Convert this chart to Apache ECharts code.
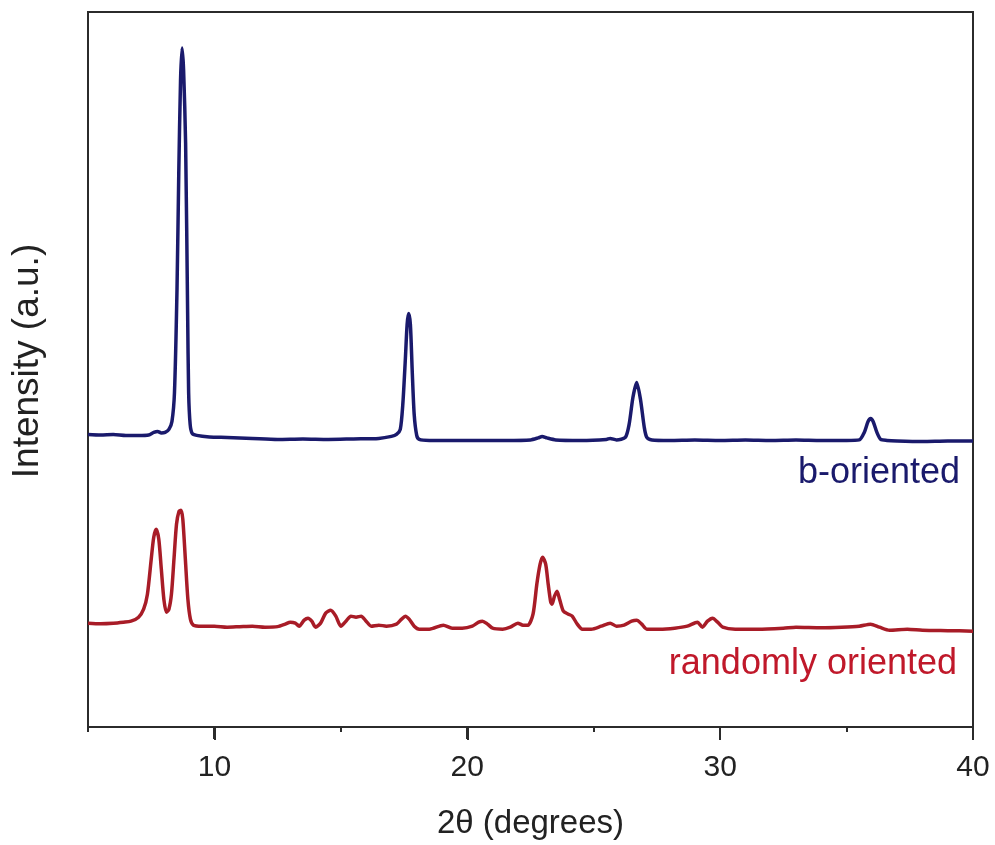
<!DOCTYPE html>
<html>
<head>
<meta charset="utf-8">
<script src="https://cdn.jsdelivr.net/npm/echarts@6/dist/echarts.min.js"></script>
<style>
html,body{margin:0;padding:0;background:#fff;}
#chart{width:995px;height:845px;}
</style>
</head>
<body>
<div id="chart"></div>
<script>
// 2θ (degrees) and intensity (a.u.)
var bTheta = [5.0,5.5,6.0,6.5,7.0,7.4,7.6,7.75,7.9,8.05,8.2,8.32,8.42,8.52,8.59,8.66,8.72,8.78,8.86,8.94,8.98,9.04,9.12,9.3,9.8,10.5,11.5,12.5,13.5,14.5,15.5,16.5,17.0,17.2,17.35,17.45,17.55,17.62,17.68,17.75,17.82,17.9,18.0,18.1,18.5,19.5,20.5,21.5,22.5,22.8,22.96,23.15,23.5,24.5,25.5,25.65,25.9,26.25,26.4,26.55,26.7,26.85,27.0,27.1,27.3,28,29,30,31,32,33,34,35,35.5,35.7,35.85,35.95,36.05,36.2,36.35,36.6,37,38,39,40];
var bIntensity = [293,292.5,293,292,292,292.5,295,296,294.5,295,298,306,335,438,555,648,680,658,585,415,335,303,294,292,290.5,290,289,288,288.5,288,288.5,289,291,293,298,323,368,403,414,403,358,313,292,288,287,287,287,287,287.5,289.5,291,289.5,287.5,287,288,289,287.5,290,303,330,345,328,300,290,287.5,287,287.5,287,287.5,287,287.5,287,287,287.5,295,306,309,306,295,288,287,286.5,286,286.5,286.5];

var rTheta = [5.0,5.5,6.0,6.4,6.7,7.0,7.2,7.35,7.5,7.6,7.7,7.8,7.9,8.0,8.1,8.2,8.3,8.4,8.5,8.6,8.68,8.75,8.85,8.95,9.05,9.17,9.5,10,10.5,11,11.5,12,12.5,12.8,13.0,13.2,13.35,13.55,13.7,13.85,14.0,14.2,14.4,14.6,14.8,15.0,15.2,15.4,15.6,15.8,16.0,16.2,16.5,16.8,17.2,17.4,17.55,17.7,17.9,18.1,18.5,19.05,19.4,19.8,20.2,20.45,20.6,20.8,21.0,21.4,21.7,22.0,22.2,22.4,22.6,22.75,22.88,22.98,23.1,23.2,23.3,23.35,23.45,23.55,23.65,23.8,24.0,24.15,24.35,24.55,24.9,25.3,25.65,25.9,26.2,26.5,26.7,26.9,27.1,27.6,28.2,28.7,29.1,29.3,29.5,29.7,29.9,30.1,30.6,31.5,32.5,33.0,34.0,34.8,35.5,35.95,36.3,36.7,37.4,38,39,40];
var rIntensity = [104,103.5,104,105,106,110,118,133,168,190,198,188,158,128,115,118,133,168,203,216,217,208,168,128,108,102,101,101,100,100.5,101,100,100.5,103,105,104,101,107,109,106,100,104,114,117,111,101,106,111,110,111,106,101,102,101,103,108,111,108,101,98,98,102,99,99,101,105,106,103,99,98,100,104,102,102,113,143,163,170,163,143,125,123,131,136,128,116,113,111,103,98,98,101,104,101,102,106,107,103,98,98,99,101,105,100,106,109,105,100,98,98,99,100,99.5,100,101,103,100,97,98,97,96.5,96];

var xMin = 5, xMax = 40;
var majorTicks = [10,20,30,40];
var minorTicks = [5,15,25,35];
var seriesNames = ['b-oriented','randomly oriented'];
var xTitle = '2θ (degrees)';
var yTitle = 'Intensity (a.u.)';

function pairs(xs, ys){ return xs.map(function(x,i){ return [x, ys[i]]; }); }

var FONT = 'Liberation Sans, Arial, Helvetica, sans-serif';
var AXIS = '#2b2b2b';
var BLUE = '#1a1a6c';
var RED = '#a81c27';

var W = 995, H = 845;
var L = 88, R = 22, T = 12, B = 117;
var MAJOR_LEN = 12;
var pxPerDeg = (W - L - R) / (xMax - xMin);
// companion grid starting at the first labelled value, so its labels land on 10, 20, 30, 40
var L2 = L + (majorTicks[0] - xMin) * pxPerDeg;

var chart = echarts.init(document.getElementById('chart'), null, {renderer:'canvas'});
chart.setOption({
  animation:false,
  backgroundColor:'#ffffff',
  grid:[
    {left:L, right:R, top:T, bottom:B, show:true, borderColor:AXIS, borderWidth:2, backgroundColor:'transparent'},
    {left:L2, right:R, top:T, bottom:B, show:false}
  ],
  xAxis:[{
    gridIndex:0, type:'value', min:xMin, max:xMax, interval:5,
    name:xTitle, nameLocation:'middle', nameGap:80,
    nameTextStyle:{fontFamily:FONT, fontSize:33, color:'#222'},
    axisLine:{show:true, onZero:false, lineStyle:{color:AXIS, width:2}},
    axisTick:{show:true, customValues:minorTicks, length:5, lineStyle:{color:AXIS, width:2}},
    axisLabel:{show:false},
    splitLine:{show:false}
  },{
    gridIndex:1, type:'value', min:majorTicks[0], max:xMax, interval:10, position:'bottom',
    axisLine:{show:false},
    axisTick:{show:true, length:MAJOR_LEN, lineStyle:{color:AXIS, width:2}},
    axisLabel:{show:true, margin:25, fontFamily:FONT, fontSize:30, color:'#222', showMinLabel:true, showMaxLabel:true},
    splitLine:{show:false}
  }],
  yAxis:[{
    gridIndex:0, type:'value', min:0, max:716,
    axisLine:{show:true, onZero:false, lineStyle:{color:AXIS, width:2}},
    axisTick:{show:false}, axisLabel:{show:false}, splitLine:{show:false}
  },{
    gridIndex:1, type:'value', min:0, max:716, show:false
  }],
  series:[{
    name:seriesNames[0], type:'line', xAxisIndex:0, yAxisIndex:0, data:pairs(bTheta,bIntensity), showSymbol:false,
    smooth:0.25, lineStyle:{color:BLUE, width:3.5}, z:3
  },{
    name:seriesNames[1], type:'line', xAxisIndex:0, yAxisIndex:0, data:pairs(rTheta,rIntensity), showSymbol:false,
    smooth:0.25, lineStyle:{color:RED, width:3.5}, z:3
  }],
  graphic:[{
    id:'ytitle', type:'text', x:28, y:361, rotation:Math.PI/2,
    style:{text:yTitle, fontFamily:FONT, fontSize:37, fill:'#222', textAlign:'center', textVerticalAlign:'middle'}
  },{
    id:'lab0', type:'text', right:35, top:455,
    style:{text:seriesNames[0], fontFamily:FONT, fontSize:36, fill:BLUE}
  },{
    id:'lab1', type:'text', right:38, top:646,
    style:{text:seriesNames[1], fontFamily:FONT, fontSize:36, fill:'#c0182a'}
  }]
});

// major tick marks placed through the axis scale
var y0 = chart.convertToPixel({yAxisIndex:0}, 0);
var tickGraphics = majorTicks.map(function(v, i){
  var px = Math.round(chart.convertToPixel({xAxisIndex:0}, v));
  return {id:'major' + i, type:'line', z:100,
    shape:{x1:px, y1:y0, x2:px, y2:y0 + MAJOR_LEN},
    style:{stroke:AXIS, lineWidth:2}};
});
chart.setOption({graphic:tickGraphics});
</script>
</body>
</html>
